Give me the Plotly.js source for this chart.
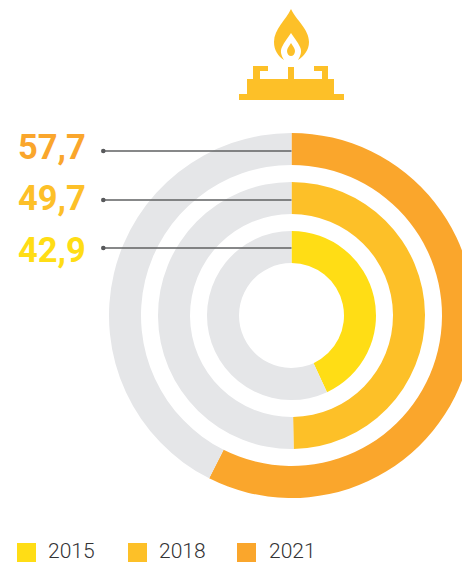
<!DOCTYPE html>
<html><head><meta charset="utf-8">
<script src="https://cdn.plot.ly/plotly-3.0.1.min.js"></script>
<style>html,body{margin:0;padding:0;background:#fff;width:462px;height:563px;overflow:hidden}#c{width:480px;height:563px}</style>
</head><body><div id="c"></div>
<script>
const years = ['2015','2018','2021'];
const shares = [43.1,49.75,57.45];
const shareLabels = ['42,9','49,7','57,7'];
const colors = ['#FFDD15','#FDC028','#FAA62C'];
const grey = '#E5E6E8';
const outerRadius = [84.5,133.5,182.5];
const innerRadius = [52.5,101.5,150.5];
const W=480,H=563,cx=291.5,cy=315.5;
const X=x=>x/W, Y=y=>1-y/H;
const traces = years.map((yr,i)=>({
  type:'pie', name:yr, labels:[yr,'rest'], values:[shares[i],100-shares[i]],
  sort:false, direction:'clockwise', rotation:0, textinfo:'none', hoverinfo:'skip',
  hole:innerRadius[i]/outerRadius[i], showlegend:false,
  marker:{colors:[colors[i],grey],line:{width:0}},
  domain:{x:[X(cx-outerRadius[i]),X(cx+outerRadius[i])],y:[Y(cy+outerRadius[i]),Y(cy-outerRadius[i])]}
}));
const shapes=[],annotations=[];
const icon='#FDC028';
function poly(pts,col){shapes.push({type:'path',xref:'paper',yref:'paper',layer:'above',
  path:'M'+pts.map(p=>X(p[0])+','+Y(p[1])).join(' L')+' Z',fillcolor:col,line:{width:0}});}
function curve(str,col){shapes.push({type:'path',xref:'paper',yref:'paper',layer:'above',
  path:str.replace(/(-?[\d.]+),(-?[\d.]+)/g,(m,a,b)=>X(+a)+','+Y(+b)),fillcolor:col,line:{width:0}});}
// burner
poly([[239,94],[247,94],[247,79],[253,79],[253,66],[268,66],[268,71],[260,71],[260,79],[288,79],[288,67],[294,67],[294,79],[322,79],[322,71],[314,71],[314,66],[328,66],[328,79],[334,79],[334,94],[344,94],[344,100],[239,100]],icon);
// flame
curve('M291,9 C296,20 309,29 309,42 C309,50 304,56 298,60 C301,55 302,51 300,47 C298,42 294,38 291,33 C288,38 284,42 282,47 C280,51 281,55 284,60 C278,56 274,50 274,42 C274,29 286,20 291,9 Z',icon);
curve('M291,43 C292.5,46 295,48 295,51 C295,54 293,56 291,56 C289,56 287,54 287,51 C287,48 289.5,46 291,43 Z',icon);
// leader lines + labels
const labelY=[248,200,151];
const textY=[250,198,147];
shareLabels.forEach((s,i)=>{
  shapes.push({type:'line',xref:'paper',yref:'paper',layer:'above',x0:X(103),x1:X(291.5),y0:Y(labelY[i]),y1:Y(labelY[i]),line:{color:'#5F6062',width:1.3}});
  shapes.push({type:'circle',xref:'paper',yref:'paper',layer:'above',x0:X(101),x1:X(105.6),y0:Y(labelY[i]-2.3),y1:Y(labelY[i]+2.3),fillcolor:'#58595B',line:{width:0}});
  annotations.push({xref:'paper',yref:'paper',x:X(16),y:Y(textY[i]),xanchor:'left',yanchor:'middle',showarrow:false,
    text:'<b>'+s+'</b>',font:{family:'Roboto',size:34.5,color:colors[i]}});
});
// legend
const swX=[17,128,237], txX=[45.5,156.5,266.5];
years.forEach((y,i)=>{
  shapes.push({type:'rect',xref:'paper',yref:'paper',layer:'above',x0:X(swX[i]),x1:X(swX[i]+19),y0:Y(562),y1:Y(543),fillcolor:colors[i],line:{width:0}});
  annotations.push({xref:'paper',yref:'paper',x:X(txX[i]),y:Y(551),xanchor:'left',yanchor:'middle',showarrow:false,
    text:y,font:{family:'Roboto',size:21,weight:300,color:'#333335'}});
});
Plotly.newPlot('c',traces,{width:W,height:H,margin:{l:0,r:0,t:0,b:0},paper_bgcolor:'#fff',shapes,annotations,showlegend:false},{staticPlot:true,displayModeBar:false});
</script></body></html>
